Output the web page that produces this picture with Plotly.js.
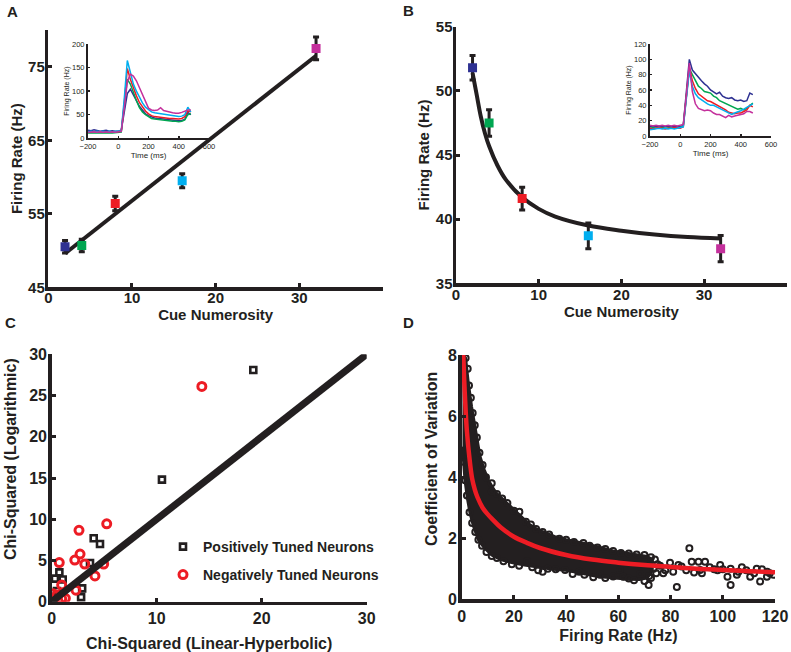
<!DOCTYPE html>
<html><head><meta charset="utf-8">
<script src="https://cdn.plot.ly/plotly-3.0.1.min.js"></script>
<style>html,body{margin:0;padding:0;background:#fff;}#chart{width:791px;height:652px;}</style>
</head><body><div id="chart"></div>
<script>
// ---------- Panel A ----------
const cueNumerosity = [2, 4, 8, 16, 32];
const rateA = [50.5, 50.7, 56.4, 59.5, 77.5];
const errA = [0.85, 0.85, 1.0, 0.95, 1.55];
const fitAX = [2, 32];
const fitAY = [49.6, 76.5];
// ---------- Panel B ----------
const rateB = [51.8, 47.5, 41.6, 38.7, 37.7];
const errB = [0.95, 1.03, 0.88, 1.0, 1.03];
const fitBX = [2, 2.5, 3, 3.5, 4, 5, 6, 8, 10, 12, 16, 20, 24, 28, 32];
const fitBY = [51.4, 49.7, 48.0, 46.7, 45.7, 44.2, 43.1, 41.7, 40.8, 40.2, 39.5, 39.1, 38.8, 38.6, 38.5];
const cueColors = ['#2e3192', '#00a651', '#ed1c24', '#00aeef', '#c4309c'];
// ---------- Insets (time courses) ----------
const timeMs = [-200,-180,-160,-140,-120,-100,-80,-60,-40,-20,0,20,40,60,80,100,120,140,160,180,200,220,240,260,280,300,320,340,360,380,400,420,440,460,480];
const insetA_n2  = [17,16,18,16,15,16,17,15,16,15,15,17,60,95,104,92,80,68,60,52,48,45,43,42,42,41,40,39,38,38,37,38,40,55,50];
const insetA_n4  = [11,12,11,12,12,11,12,12,11,12,12,13,70,125,115,95,80,65,56,50,45,42,41,40,39,39,38,37,36,36,35,36,39,50,52];
const insetA_n8  = [14,13,14,13,14,13,13,14,13,14,14,15,75,148,125,105,90,76,66,58,52,48,46,45,44,44,43,42,42,41,41,42,46,58,56];
const insetA_n16 = [14,15,14,15,14,15,14,15,14,15,15,16,85,165,140,115,100,86,75,66,60,56,54,53,52,51,50,48,47,46,46,47,50,66,56];
const insetA_n32 = [13,14,14,13,14,13,14,13,14,13,14,15,65,120,136,132,122,107,92,78,64,60,59,60,65,59,57,55,54,53,53,55,57,60,60];
const insetB_n2  = [12,13,12,13,12,12,13,12,13,12,12,14,55,100,86,81,76,72,68,65,60,57,55,57,52,50,49,50,47,46,47,45,46,56,54];
const insetB_n4  = [10,11,10,11,11,10,11,11,10,11,11,13,50,88,80,72,65,62,58,57,56,52,50,46,44,42,40,38,37,35,36,34,36,40,43];
const insetB_n8  = [10,9,10,11,10,9,10,10,11,10,10,12,50,90,72,62,55,52,50,46,45,43,40,38,36,34,31,30,29,30,30,32,34,40,38];
const insetB_n16 = [8,9,9,10,9,10,9,10,9,10,10,12,48,85,65,55,50,47,44,42,40,40,38,36,34,32,30,28,30,31,33,35,37,39,42];
const insetB_n32 = [14,13,14,13,14,13,14,13,14,13,14,15,52,95,58,42,36,34,33,34,33,30,28,28,26,24,27,25,26,27,28,29,32,32,30];
// ---------- Panel C ----------
const posX = [19.2, 10.5, 4.0, 4.6, 3.65, 0.73, 1.05, 0.31, 2.9, 2.8, 0.5, 0.2];
const posY = [28.1, 14.8, 7.7, 7.0, 4.7, 3.55, 2.7, 2.8, 1.62, 0.55, 1.3, 0.5];
const negX = [14.3, 5.24, 2.6, 0.72, 2.7, 2.2, 3.15, 4.95, 4.12, 0.95, 2.31, 0.12, 1.3, 0.95, 0.5];
const negY = [26.1, 9.45, 8.65, 4.75, 5.77, 5.05, 4.57, 4.57, 3.13, 2.02, 1.4, 0.97, 0.41, 0.35, 0.8];
const identityX = [0, 30];
const identityY = [0, 30];
// ---------- Panel D ----------
const cvFitX = [0.6, 1, 1.5, 2, 3, 4, 5, 6, 8, 10, 12, 15, 20, 25, 30, 40, 50, 60, 70, 80, 90, 100, 110, 120];
const cvFitY = [8.0, 7.1, 6.2, 5.5, 4.6, 3.95, 3.6, 3.35, 3.0, 2.78, 2.6, 2.35, 2.05, 1.85, 1.68, 1.45, 1.3, 1.2, 1.12, 1.06, 1.0, 0.96, 0.92, 0.885];
// dense cloud outline (upper edge left->right, then lower edge right->left)
const cloudX = [0.3,0.5,1.5,2.5,3.8,5.1,7,8.6,10.2,13,16.6,20,23,26,29.3,32.5,35.7,40,46.6,52,58,64,68,71,73,
                73,71,68,64,58,52,46,40,35,29.3,24,19.2,15,11.5,8.5,6.4,4.5,3.2,2.2,1.26,0.6,0.3];
const cloudY = [8.0,8.0,7.9,7.1,6.3,5.66,4.68,4.25,3.9,3.5,3.2,2.95,2.7,2.45,2.27,2.15,2.05,1.95,1.84,1.72,1.58,1.5,1.45,1.4,1.3,
                0.95,0.7,0.65,0.66,0.7,0.75,0.85,0.95,0.98,1.05,1.12,1.2,1.3,1.45,1.7,1.95,2.4,2.82,3.3,3.9,4.6,5.0];
const rateD = [1.5,2.3,2.8,3.5,4.2,5.0,5.8,6.8,8.0,9.3,11.5,11.5,13.5,15.5,17.5,20,22.1,24.6,26.5,28.5,31,33.5,37.4,40,43,46.6,49,52,55,58,61,64,67,70,72.5,
  0.8,1.3,2.0,3.0,4.0,5.2,6.4,7.8,9.5,11.5,13.5,16,19.2,22,25,27,29.3,31,33,36,39.6,42.5,45,47,50.4,53,55,58,60.6,61.9,64,66,68.3,70,71.6,72.5,
  82.4,87.2,103,115,114.3,119.4,107.3,99,93.2,90.7,88.1,79.8,84.2,96.7,101.8,110.5,71.8,77.2,105.4,91.3,116.9,76,78,81,83,86,89,92,95,98,100,103,106,109,112,113,117,118,74,75,73.5,74.5];
const cvD = [7.9,7.55,7.0,6.6,6.1,5.7,5.3,4.8,4.4,4.0,3.8,3.53,3.45,3.3,3.15,2.9,2.87,2.54,2.45,2.3,2.2,2.12,1.98,1.95,1.88,1.84,1.75,1.7,1.65,1.58,1.52,1.5,1.47,1.45,1.38,
  4.5,3.9,3.4,2.85,2.5,2.2,1.95,1.75,1.55,1.42,1.35,1.25,1.15,1.1,1.25,1.05,0.95,0.9,1.0,0.98,0.96,0.83,0.9,0.8,0.72,0.8,0.7,0.75,0.96,0.74,0.68,0.62,0.83,0.6,0.47,0.7,
  0.4,1.67,0.47,0.98,0.58,0.8,1.05,1.12,1.23,1.23,1.23,1.2,1.07,0.98,0.74,0.74,0.76,0.85,0.8,0.96,0.74,1.1,0.95,0.9,1.12,0.95,0.88,0.85,1.05,0.95,0.98,1.0,0.9,0.95,0.85,1.0,0.9,0.85,1.3,1.15,1.0,0.85];

const W = 791, H = 652;
const px = v => v / W, py = v => 1 - v / H;
const INK = '#231f20';
const FAM = 'Liberation Sans, Arial, Helvetica, sans-serif';
const insetNames = ['2','4','8','16','32'];

function mainAxis(dom, range, tickvals, title, size, standoff, anchor, labelShift) {
  return {
    domain: dom, range: range, tickvals: tickvals, anchor: anchor,
    showline: true, linewidth: 3.5, linecolor: INK, showgrid: false, zeroline: false,
    ticks: 'inside', ticklen: 4, tickwidth: 3, tickcolor: INK,
    ticklabelstandoff: labelShift,
    tickfont: {family: FAM, size: size, color: INK, weight: 'bold'},
    title: title ? {text: title, standoff: standoff, font: {family: FAM, size: size, color: INK, weight: 'bold'}} : undefined,
    fixedrange: true
  };
}
function insetAxis(dom, range, tickvals, title, size, anchor, standoff) {
  return {
    domain: dom, range: range, tickvals: tickvals, anchor: anchor,
    showline: true, linewidth: 2, linecolor: INK, showgrid: false, zeroline: false,
    ticks: 'inside', ticklen: 2, tickwidth: 1.5, tickcolor: INK,
    tickfont: {family: FAM, size: 7.5, color: INK},
    title: {text: title, standoff: standoff, font: {family: FAM, size: size, color: INK}},
    fixedrange: true
  };
}

const traces = [];
// Panel A
traces.push({x: fitAX, y: fitAY, xaxis: 'x', yaxis: 'y', mode: 'lines', line: {color: INK, width: 4}, showlegend: false, hoverinfo: 'skip'});
traces.push({x: cueNumerosity, y: rateA, xaxis: 'x', yaxis: 'y', mode: 'markers',
  marker: {symbol: 'square', size: 9, color: cueColors},
  error_y: {type: 'data', array: errA, color: INK, thickness: 3, width: 3}, showlegend: false});
// Inset A
[insetA_n2, insetA_n4, insetA_n8, insetA_n16, insetA_n32].forEach((s, i) => {
  traces.push({x: timeMs, y: s, xaxis: 'x2', yaxis: 'y2', mode: 'lines', name: insetNames[i],
    line: {color: cueColors[i], width: 1.5}, showlegend: false});
});
// Panel B
traces.push({x: fitBX, y: fitBY, xaxis: 'x3', yaxis: 'y3', mode: 'lines', line: {color: INK, width: 4, shape: 'spline'}, showlegend: false, hoverinfo: 'skip'});
traces.push({x: cueNumerosity, y: rateB, xaxis: 'x3', yaxis: 'y3', mode: 'markers',
  marker: {symbol: 'square', size: 9, color: cueColors},
  error_y: {type: 'data', array: errB, color: INK, thickness: 3, width: 3}, showlegend: false});
// Inset B
[insetB_n2, insetB_n4, insetB_n8, insetB_n16, insetB_n32].forEach((s, i) => {
  traces.push({x: timeMs, y: s, xaxis: 'x4', yaxis: 'y4', mode: 'lines', name: insetNames[i],
    line: {color: cueColors[i], width: 1.5}, showlegend: false});
});
// Panel C
traces.push({x: posX, y: posY, xaxis: 'x5', yaxis: 'y5', mode: 'markers', name: 'Positively Tuned Neurons',
  marker: {symbol: 'square-open', size: 6, color: INK, line: {width: 2.6, color: INK}}, legend: 'legend'});
traces.push({x: negX, y: negY, xaxis: 'x5', yaxis: 'y5', mode: 'markers', name: 'Negatively Tuned Neurons',
  marker: {symbol: 'circle-open', size: 8, color: '#ed1c24', line: {width: 3, color: '#ed1c24'}}, legend: 'legend2'});
traces.push({x: identityX, y: identityY, xaxis: 'x5', yaxis: 'y5', mode: 'lines', line: {color: INK, width: 7}, showlegend: false, hoverinfo: 'skip'});
// Panel D
traces.push({x: cloudX, y: cloudY, xaxis: 'x6', yaxis: 'y6', mode: 'lines', fill: 'toself', fillcolor: INK,
  line: {color: INK, width: 3}, showlegend: false, hoverinfo: 'skip'});
traces.push({x: rateD, y: cvD, xaxis: 'x6', yaxis: 'y6', mode: 'markers',
  marker: {symbol: 'circle-open', size: 6, color: INK, line: {width: 2, color: INK}}, showlegend: false});
traces.push({x: cvFitX, y: cvFitY, xaxis: 'x6', yaxis: 'y6', mode: 'lines', line: {color: '#ed1c24', width: 4.5, shape: 'spline'}, showlegend: false});

const legFont = {family: FAM, size: 14, color: INK, weight: 'bold'};
const lbl = (t, x, y) => ({text: t, x: px(x), y: py(y), xref: 'paper', yref: 'paper', xanchor: 'center', yanchor: 'middle',
  showarrow: false, font: {family: FAM, size: 15, color: INK, weight: 'bold'}});
const vtitle = (t, x, y) => ({text: t, textangle: -90, x: px(x), y: py(y), xref: 'paper', yref: 'paper', xanchor: 'center', yanchor: 'middle',
  showarrow: false, font: {family: FAM, size: 16, color: INK, weight: 'bold'}});
const layout = {
  width: W, height: H,
  margin: {l: 0, r: 0, t: 0, b: 0, pad: 0},
  paper_bgcolor: '#ffffff', plot_bgcolor: 'rgba(0,0,0,0)',
  font: {family: FAM, color: INK},
  xaxis:  mainAxis([px(48.3), px(383)], [0, 40], [0, 10, 20, 30], 'Cue Numerosity', 15, 5, 'y', -6),
  yaxis:  mainAxis([py(287.3), py(30)], [45, 80], [45, 55, 65, 75], 'Firing Rate (Hz)', 15, 3, 'x', -3),
  xaxis2: insetAxis([px(88), px(209)], [-200, 600], [-200, 0, 200, 400, 600], 'Time (ms)', 8, 'y2', 1),
  yaxis2: insetAxis([py(138.3), py(44)], [0, 200], [0, 50, 100, 150, 200], 'Firing Rate (Hz)', 7, 'x2', 2),
  xaxis3: mainAxis([px(456), px(786.8)], [0, 40], [0, 10, 20, 30], 'Cue Numerosity', 15, 2, 'y3', -5),
  yaxis3: mainAxis([py(283.3), py(26.7)], [35, 55], [35, 40, 45, 50, 55], 'Firing Rate (Hz)', 15, 3, 'x3', -3),
  xaxis4: insetAxis([px(650), px(771)], [-200, 600], [-200, 0, 200, 400, 600], 'Time (ms)', 8, 'y4', 1),
  yaxis4: insetAxis([py(136), py(44)], [0, 120], [0, 20, 40, 60, 80, 100, 120], 'Firing Rate (Hz)', 7, 'x4', 2),
  xaxis5: mainAxis([px(51.7), px(366.7)], [0, 30], [0, 10, 20, 30], 'Chi-Squared (Linear-Hyperbolic)', 16, 12, 'y5', 0),
  yaxis5: mainAxis([py(601.7), py(354.3)], [0, 30], [0, 5, 10, 15, 20, 25, 30], null, 16, 0, 'x5', -2),
  xaxis6: mainAxis([px(461.7), px(775)], [0, 120], [0, 20, 40, 60, 80, 100, 120], 'Firing Rate (Hz)', 16, 7, 'y6', 0),
  yaxis6: mainAxis([py(599.3), py(355)], [0, 8], [0, 2, 4, 6, 8], null, 16, 0, 'x6', -2),
  legend:  {x: px(163), y: py(531), xanchor: 'left', yanchor: 'top', bgcolor: 'rgba(0,0,0,0)', font: legFont},
  legend2: {x: px(163), y: py(559), xanchor: 'left', yanchor: 'top', bgcolor: 'rgba(0,0,0,0)', font: legFont},
  annotations: [
    lbl('A', 12, 11), lbl('B', 408, 10), lbl('C', 10, 322), lbl('D', 409, 322),
    vtitle('Chi-Squared (Logarithmic)', 10, 459),
    vtitle('Coefficient of Variation', 431, 459)
  ]
};
Plotly.newPlot('chart', traces, layout, {staticPlot: true, displayModeBar: false});
</script></body></html>
